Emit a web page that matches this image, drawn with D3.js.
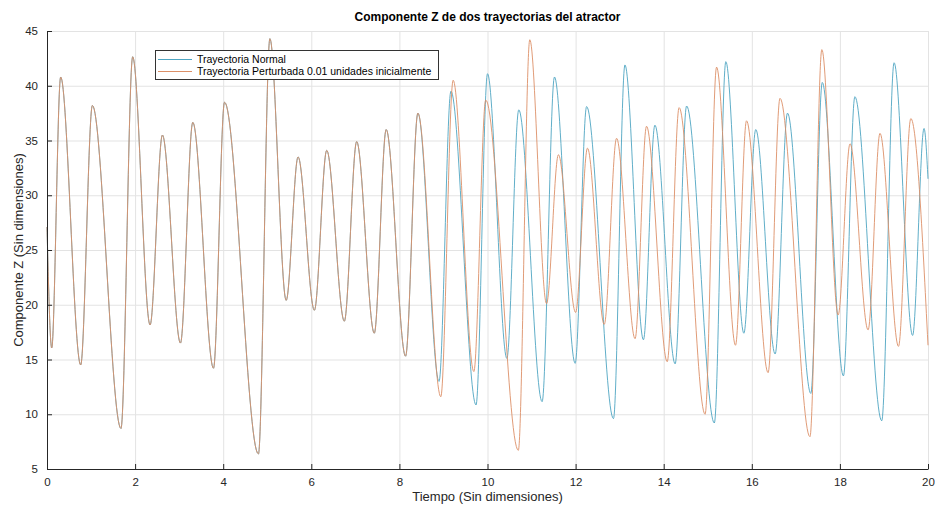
<!DOCTYPE html>
<html>
<head>
<meta charset="utf-8">
<script src="https://cdn.jsdelivr.net/npm/d3@7"></script>
<style>
  body { margin: 0; background: #fff; }
  text { font-family: "Liberation Sans", Arial, sans-serif; }
</style>
</head>
<body>
<script>
var width = 935;
var height = 506;
var margin = {top: 31, right: 7, bottom: 37, left: 47};

// tramo común: las dos trayectorias coinciden hasta t ~ 8.4
var comun = [
    [0, 27.1], [0.107, 16.05], [0.31, 40.8], [0.765, 14.5], [1.03, 38.2],
    [1.68, 8.7], [1.945, 42.65], [2.34, 18.15], [2.62, 35.5], [3.03, 16.5],
    [3.31, 36.66], [3.78, 14.2], [4.03, 38.5], [4.80, 6.37], [5.06, 44.3],
    [5.43, 20.4], [5.70, 33.5], [6.07, 19.5], [6.35, 34.1], [6.75, 18.5],
    [7.03, 34.9], [7.43, 17.4], [7.70, 36.0], [8.14, 15.3], [8.42, 37.5]
];

var normal = [
    [8.90, 13.0], [9.17, 39.5], [9.74, 10.85], [10.0, 41.1], [10.44, 15.1],
    [10.71, 37.8], [11.24, 11.15], [11.52, 40.8], [11.99, 14.65], [12.25, 38.1],
    [12.86, 9.6], [13.12, 41.9], [13.54, 16.8], [13.80, 36.4], [14.26, 14.6],
    [14.52, 38.15], [15.15, 9.2], [15.41, 42.2], [15.82, 17.4], [16.09, 36.0],
    [16.53, 15.5], [16.81, 37.5], [17.34, 11.9], [17.60, 40.3], [18.08, 13.5],
    [18.34, 39.0], [18.95, 9.4], [19.23, 42.1], [19.65, 17.2], [19.91, 36.1],
    [20, 31.5]
];

var perturbada = [
    [8.94, 11.6], [9.22, 40.5], [9.69, 13.9], [9.96, 38.7], [10.70, 6.7],
    [10.96, 44.2], [11.34, 20.1], [11.61, 33.7], [12.0, 19.3], [12.27, 34.3],
    [12.65, 18.2], [12.93, 35.2], [13.35, 16.9], [13.61, 36.3], [14.08, 14.8],
    [14.35, 38.0], [14.94, 10.0], [15.20, 41.7], [15.63, 16.3], [15.88, 36.8],
    [16.37, 13.8], [16.64, 38.85], [17.32, 7.95], [17.59, 43.3], [17.96, 19.06],
    [18.23, 34.7], [18.64, 17.7], [18.91, 35.65], [19.33, 16.2], [19.61, 37.0],
    [20, 16.3]
];

var xTicks = d3.range(0, 21, 2);
var yTicks = d3.range(5, 46, 5);
var nombres = ["Trayectoria Normal", "Trayectoria Perturbada 0.01 unidades inicialmente"];
var colores = ["#4ea5c2", "#dc9068"];

var svg = d3.select("body").append("svg")
    .attr("width", width)
    .attr("height", height);

var x = d3.scaleLinear().domain([0, 20]).range([margin.left, width - margin.right]);
var y = d3.scaleLinear().domain([5, 45]).range([height - margin.bottom, margin.top]);

// rejilla
svg.append("g").selectAll("line").data(xTicks).enter().append("line")
    .attr("x1", function(d) { return x(d) + 0.5; }).attr("x2", function(d) { return x(d) + 0.5; })
    .attr("y1", y(5)).attr("y2", y(45))
    .attr("stroke", "#e3e3e3").attr("stroke-width", 1);
svg.append("g").selectAll("line").data(yTicks).enter().append("line")
    .attr("x1", x(0)).attr("x2", x(20))
    .attr("y1", function(d) { return y(d) + 0.5; }).attr("y2", function(d) { return y(d) + 0.5; })
    .attr("stroke", "#e3e3e3").attr("stroke-width", 1);

// curvas
var linea = d3.line()
    .x(function(d) { return x(d[0]); })
    .y(function(d) { return y(d[1]); })
    .curve(d3.curveMonotoneX);

svg.append("path")
    .datum(comun.concat(normal))
    .attr("d", linea)
    .attr("fill", "none")
    .attr("stroke", colores[0])
    .attr("stroke-width", 0.9);

svg.append("path")
    .datum(comun.concat(perturbada))
    .attr("d", linea)
    .attr("fill", "none")
    .attr("stroke", colores[1])
    .attr("stroke-width", 0.9);

// ejes
var xAxis = svg.append("g")
    .attr("transform", "translate(0," + y(5) + ")")
    .call(d3.axisBottom(x).tickValues(xTicks).tickSizeInner(-5).tickSizeOuter(0).tickPadding(9));
var yAxis = svg.append("g")
    .attr("transform", "translate(" + x(0) + ",0)")
    .call(d3.axisLeft(y).tickValues(yTicks).tickSizeInner(-5).tickSizeOuter(0).tickPadding(9));

[xAxis, yAxis].forEach(function(a) {
    a.select(".domain").attr("stroke", "#262626");
    a.selectAll(".tick line").attr("stroke", "#262626");
    a.selectAll(".tick text").attr("fill", "#262626").style("font-size", "11.5px");
});

// titulo y etiquetas
svg.append("text")
    .attr("x", (x(0) + x(20)) / 2).attr("y", 21)
    .attr("text-anchor", "middle")
    .style("font-size", "12px").style("font-weight", "bold")
    .attr("fill", "#000")
    .text("Componente Z de dos trayectorias del atractor");

svg.append("text")
    .attr("x", (x(0) + x(20)) / 2).attr("y", 501)
    .attr("text-anchor", "middle")
    .style("font-size", "13px")
    .attr("fill", "#262626")
    .text("Tiempo (Sin dimensiones)");

svg.append("text")
    .attr("transform", "translate(23," + ((y(5) + y(45)) / 2) + ") rotate(-90)")
    .attr("text-anchor", "middle")
    .style("font-size", "13px")
    .attr("fill", "#262626")
    .text("Componente Z (Sin dimensiones)");

// leyenda
var leyenda = svg.append("g").attr("transform", "translate(155,50)");
leyenda.append("rect")
    .attr("x", 0.5).attr("y", 0.5)
    .attr("width", 283).attr("height", 29)
    .attr("fill", "#fff")
    .attr("stroke", "#333").attr("stroke-width", 1);
nombres.forEach(function(n, i) {
    var yy = 9 + i * 12;
    leyenda.append("line")
        .attr("x1", 3).attr("x2", 37)
        .attr("y1", yy + 0.5).attr("y2", yy + 0.5)
        .attr("stroke", colores[i]).attr("stroke-width", 1);
    leyenda.append("text")
        .attr("x", 42).attr("y", yy + 4)
        .style("font-size", "10.5px")
        .attr("fill", "#000")
        .text(n);
});
</script>
</body>
</html>
